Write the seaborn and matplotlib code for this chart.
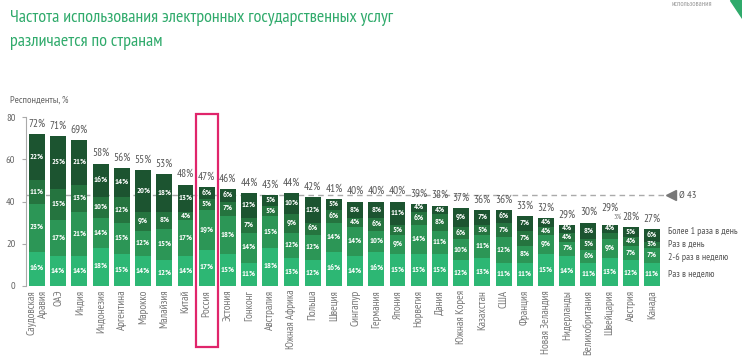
import matplotlib
matplotlib.use("Agg")
import matplotlib.pyplot as plt
from matplotlib.patches import Rectangle, Polygon
import pandas as pd
import seaborn as sns

# данные по странам (доля респондентов, %)
countries = ["Саудовская\nАравия", "ОАЭ", "Индия", "Индонезия", "Аргентина", "Марокко",
             "Малайзия", "Китай", "Россия", "Эстония", "Гонконг", "Австралия",
             "Южная Африка", "Польша", "Швеция", "Сингапур", "Германия", "Япония",
             "Норвегия", "Дания", "Южная Корея", "Казахстан", "США", "Франция",
             "Новая Зеландия", "Нидерланды", "Великобритания", "Швейцария", "Австрия", "Канада"]
once_week = [16, 14, 14, 18, 15, 14, 12, 14, 17, 15, 11, 18, 13, 12, 16,
             14, 16, 15, 15, 15, 12, 13, 11, 11, 15, 14, 11, 13, 12, 11]
week_2_6 = [23, 17, 21, 14, 15, 12, 15, 17, 19, 18, 14, 15, 12, 12, 14,
            14, 10, 9, 14, 11, 10, 11, 12, 8, 9, 7, 6, 9, 7, 7]
once_day = [11, 15, 13, 10, 12, 9, 8, 4, 5, 7, 7, 5, 9, 6, 6,
            4, 6, 5, 6, 8, 6, 5, 7, 7, 4, 4, 5, 3, 4, 3]
many_day = [22, 25, 21, 16, 14, 20, 18, 13, 6, 6, 12, 5, 10, 12, 5,
            8, 8, 11, 4, 4, 9, 7, 6, 7, 4, 4, 8, 4, 5, 6]
totals = [72, 71, 69, 58, 56, 55, 53, 48, 47, 46, 44, 43, 44, 42, 41,
          40, 40, 40, 39, 38, 37, 36, 36, 33, 32, 29, 30, 29, 28, 27]
series_names = ["Раз в неделю", "2-6 раз в неделю", "Раз в день", "Более 1 раза в день"]
average = 43

colors = ["#2db774", "#2c9656", "#25743f", "#1c5430"]
gray = "#777777"
green_title = "#2faa6b"

df = pd.DataFrame({"country": countries, series_names[0]: once_week,
                   series_names[1]: week_2_6, series_names[2]: once_day,
                   series_names[3]: many_day})
cum = df[series_names].cumsum(axis=1)

# узкий шрифт, как в оригинале
plt.rcParams['font.family'] = ['PT Sans Narrow', 'Fira Sans Condensed',
                               'IBM Plex Sans Condensed', 'DejaVu Sans']
fig = plt.figure(figsize=(7.42, 3.57), dpi=100)
ax = fig.add_axes([0.0356, 0.1997, 0.8574, 0.4717])

# накопленные столбцы, от самого высокого к низкому
for i in range(3, -1, -1):
    sns.barplot(x=df["country"], y=cum[series_names[i]], color=colors[i],
                saturation=1, width=0.75, ax=ax, order=countries)

# подписи сегментов
for j in range(len(countries)):
    base = 0
    for i, name in enumerate(series_names):
        v = df[name][j]
        if countries[j] == "Швейцария" and i == 2:
            ax.text(j + 0.38, totals[j] + 3.4, f"{v}%", ha="center", va="center",
                    fontsize=5.5, color=gray)
        else:
            ax.text(j, base + v / 2, f"{v}%", ha="center", va="center",
                    fontsize=6, color="white", fontweight="bold")
        base += v
    off = 7.5 if countries[j] != "Швейцария" else 12
    ax.annotate(f"{totals[j]}%", (j, cum[series_names[3]][j]), xytext=(0, off),
                textcoords="offset points", ha="center", va="center",
                fontsize=8, color="#555555", annotation_clip=False)

# средняя линия
ax.plot([-0.5, 29.6], [average, average], ls=(0, (4, 3)), color="#aaaaaa",
        lw=1, clip_on=False, zorder=0.5)
ax.plot([29.9], [average], marker="<", ms=7, color="#777777", clip_on=False)
ax.text(30.25, average, f"Ø {average}", va="center", fontsize=7.5, color="#555555")

# легенда текстом справа
for name, y in zip(series_names, [5.3, 13.2, 19.4, 25.6]):
    ax.text(29.75, y, name, va="center", fontsize=7, color="#555555")

# выделение России
ri = countries.index("Россия")
ax.add_patch(Rectangle((ri - 0.52, -29), 1.04, 110.8, fill=False,
                       ec="#e0256b", lw=1.6, clip_on=False, zorder=5))

ax.set_xlim(-0.5, 29.5)
ax.set_ylim(0, 80)
ax.set_yticks([0, 20, 40, 60, 80])
ax.set_xlabel("")
ax.set_ylabel("")
ax.tick_params(axis="x", length=0, rotation=90, labelsize=8, labelcolor=gray, pad=3)
ax.tick_params(axis="y", length=3, labelsize=7.5, labelcolor="#666666", color="#aaaaaa", pad=5)
for lab in ax.get_xticklabels():
    lab.set_multialignment("right")
for s in ["top", "right", "bottom"]:
    ax.spines[s].set_visible(False)
ax.spines["left"].set_color("#aaaaaa")

fig.text(10 / 742, 1 - 100 / 357, "Респонденты, %", fontsize=7.5, color="#666666", va="center")
fig.text(10 / 742, 1 - 18 / 357, "Частота использования электронных государственных услуг",
         fontsize=13, color=green_title, va="center")
fig.text(10 / 742, 1 - 42 / 357, "различается по странам",
         fontsize=13, color=green_title, va="center")
fig.text(712 / 742, 1 - 5 / 357, "использования", fontsize=5.5, color="#999999",
         ha="right", va="center")
fig.patches.append(Polygon([[730 / 742, 1], [742 / 742, 1], [742 / 742, 1 - 18 / 357]],
                           closed=True, transform=fig.transFigure, color=green_title))

fig.savefig("out.png", dpi=100)
